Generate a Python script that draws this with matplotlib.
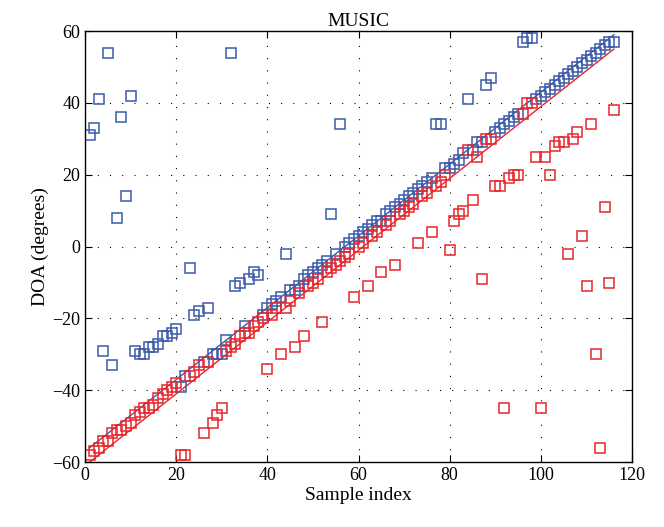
import matplotlib.pyplot as plt

plt.rcParams['font.family'] = ['Liberation Serif', 'DejaVu Serif']

# sample indices
idx = list(range(1, 117))

# true DOA tracks (endpoints)
true_x = [1, 116]
true_blue = [-56, 59]
true_red = [-60, 55]

# estimated DOA, source 1
est_blue = [31, 33, 41, -29, 54, -33, 8, 36, 14, 42,
            -29, -30, -30, -28, -28, -27, -25, -25, -24, -23,
            -39, -36, -6, -19, -18, -32, -17, -30, -30, -30,
            -26, 54, -11, -10, -22, -9, -7, -8, -19, -17,
            -16, -15, -14, -2, -12, -12, -11, -9, -8, -7,
            -6, -5, -4, 9, -2, 34, 0, 1, 2, 3,
            4, 5, 6, 7, 7, 9, 10, 11, 12, 13,
            14, 15, 16, 17, 18, 19, 34, 34, 22, 22,
            23, 24, 26, 41, 27, 29, 29, 45, 47, 32,
            33, 34, 35, 36, 37, 57, 58, 58, 41, 42,
            43, 44, 45, 46, 47, 48, 49, 50, 51, 52,
            53, 54, 55, 56, 57, 57]

# estimated DOA, source 2
est_red = [-58, -57, -56, -54, -54, -52, -51, -51, -50, -49,
           -47, -46, -45, -45, -44, -42, -41, -40, -39, -38,
           -58, -58, -36, -35, -33, -52, -32, -49, -47, -45,
           -29, -28, -27, -25, -24, -24, -22, -21, -20, -34,
           -19, -17, -30, -17, -15, -28, -13, -25, -11, -10,
           -9, -21, -7, -6, -5, -4, -3, -2, -14, 0,
           1, -11, 3, 4, -7, 6, 7, -5, 9, 10,
           11, 12, 1, 14, 15, 4, 17, 18, 20, -1,
           7, 9, 10, 27, 13, 25, -9, 30, 30, 17,
           17, -45, 19, 20, 20, 37, 40, 40, 25, -45,
           25, 20, 28, 29, 29, -2, 30, 32, 3, -11,
           34, -30, -56, 11, -10, 38]

blue = '#3b5ba9'
red = '#e8262b'

fig = plt.figure(figsize=(6.64, 5.27), dpi=100)
ax = fig.add_axes([0.128, 0.123, 0.824, 0.818])

ax.plot(true_x, true_blue, color=blue, lw=1)
ax.plot(true_x, true_red, color=red, lw=1)
ax.plot(idx, est_blue, 's', mfc='none', mec=blue, ms=7, mew=1.1)
ax.plot(idx, est_red, 's', mfc='none', mec=red, ms=7, mew=1.1)

ax.set_xlim(0, 120)
ax.set_ylim(-60, 60)
ax.set_xticks(range(0, 121, 20))
ax.set_yticks(range(-60, 61, 20))
ax.grid(True, color='black', linestyle=(0, (1, 10)), linewidth=0.8)
ax.tick_params(direction='in', top=True, right=True, length=5, labelsize=13)
for s in ax.spines.values():
    s.set_linewidth(1)

ax.set_title('MUSIC', fontsize=14, pad=4)
ax.set_xlabel('Sample index', fontsize=14, labelpad=2)
ax.set_ylabel('DOA (degrees)', fontsize=14, labelpad=2)

fig.savefig('out.png', dpi=100)
